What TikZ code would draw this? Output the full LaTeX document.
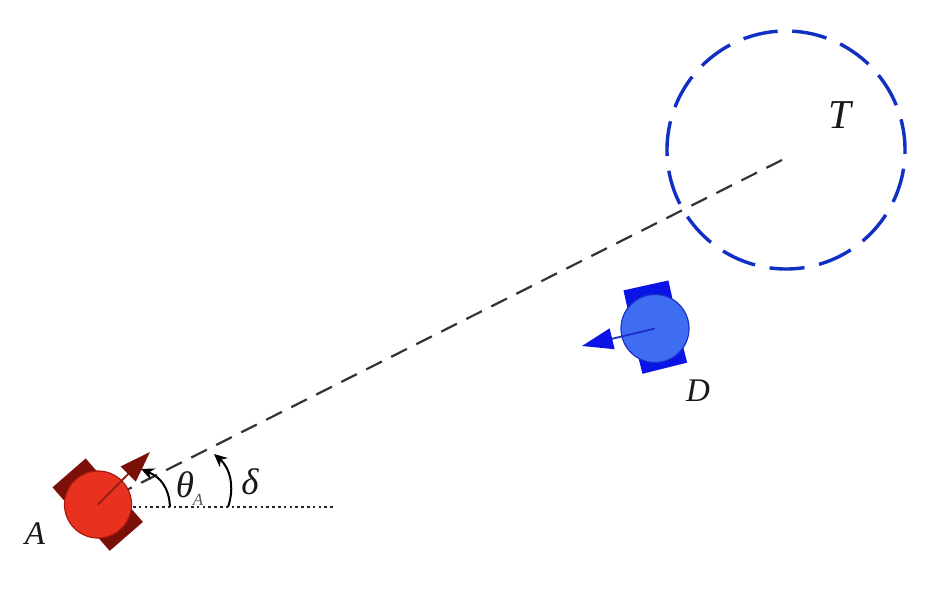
\documentclass[tikz,border=0pt]{standalone}
\usepackage{fontspec}
\setmainfont{Liberation Serif}
\usetikzlibrary{arrows.meta}
\definecolor{redbody}{HTML}{E8321F}
\definecolor{rededge}{HTML}{A81A10}
\definecolor{reddark}{HTML}{7A1008}
\definecolor{redshaft}{HTML}{8E1E14}
\definecolor{bluebody}{HTML}{3F6DF2}
\definecolor{blueedge}{HTML}{1A30C8}
\definecolor{bluedark}{HTML}{0A14E6}
\definecolor{targetblue}{HTML}{1030C4}
\tikzset{
  px/.style={x=1pt,y=1pt},
  redtread/.style={fill=reddark,draw=none,inner sep=0pt,minimum width=44pt,minimum height=17pt},
  bluetread/.style={fill=bluedark,draw=none,inner sep=0pt,minimum width=46pt,minimum height=19pt},
  redrobot/.style={circle,fill=redbody,draw=rededge,line width=1.2pt,inner sep=0pt,minimum size=67pt},
  bluerobot/.style={circle,fill=bluebody,draw=blueedge,line width=1.2pt,inner sep=0pt,minimum size=68pt},
  sightline/.style={draw=black!80,line width=2.2pt,dash pattern=on 17.5pt off 10.5pt},
  targetring/.style={draw=targetblue,line width=3.4pt,dash pattern=on 35pt off 14.87pt},
  baseline/.style={draw=black!85,line width=2.6pt,dash pattern=on 2.6pt off 3.2pt},
  anglearc/.style={draw=black,line width=2pt,-{Stealth[length=13pt,width=12pt]}},
  lbl/.style={inner sep=0pt,font=\itshape\fontsize{33}{33}\selectfont,text=black!90}
}
\begin{document}
\begin{tikzpicture}[px]
\useasboundingbox (0,0) rectangle (946,590);
\fill[white] (0,0) rectangle (946,590);
% coordinates (y measured upward)
\coordinate (Tc) at (786,440);
\coordinate (Ts) at (782,430);
\coordinate (Ac) at (98,85.5);
\coordinate (Atip) at (150,138);
\coordinate (Dtip) at (582,244);
\coordinate (b0) at (133,83);
\coordinate (b1) at (333,83);
\coordinate (th0) at (170,83);
\coordinate (th1) at (141,121);
\coordinate (de0) at (228,83);
\coordinate (de1) at (214,136);
% target ring
\draw[targetring] (Tc) ++(87:119) arc[start angle=87,delta angle=-360,radius=119];
% sight line and baseline
\draw[sightline] (Ts) -- (Ac);
\draw[baseline] (b0) -- (b1);
% attacker
\node[redtread,rotate=41] (At1) at (74.7,110.7) {};
\node[redtread,rotate=41] (At2) at (120.7,60) {};
\node[redrobot] (A) at (Ac) {};
\draw[draw=redshaft,line width=1.8pt,-{Triangle[length=31pt,width=21pt,color=reddark]}] (A.center) -- (Atip);
% defender
\node[bluetread,rotate=12.5] (Dt1) at (648,295.3) {};
\node[bluetread,rotate=14] (Dt2) at (662.5,231) {};
\node[bluerobot] (D) at (655,261.5) {};
\draw[draw=blueedge,line width=1.8pt,-{Triangle[length=31pt,width=21pt,color=bluedark]}] (D.center) -- (Dtip);
% angles
\draw[anglearc] (th0) .. controls (169,103) and (160,113) .. (th1);
\draw[anglearc] (de0) .. controls (235,103) and (230,122) .. (de1);
% labels
\node[lbl] (lT) at (840,475) {\fontsize{41}{41}\selectfont T};
\node[lbl] (lD) at (698,199) {D};
\node[lbl] (lA) at (35,56) {A};
\node[lbl] (lth) at (185,105) {\fontsize{37}{37}\selectfont θ};
\node[inner sep=0pt,font=\itshape\fontsize{17}{17}\selectfont,text=black!65] (lsub) at (198,90) {A};
\node[lbl] (lde) at (250,108) {\fontsize{37}{37}\selectfont δ};
\end{tikzpicture}
\end{document}
